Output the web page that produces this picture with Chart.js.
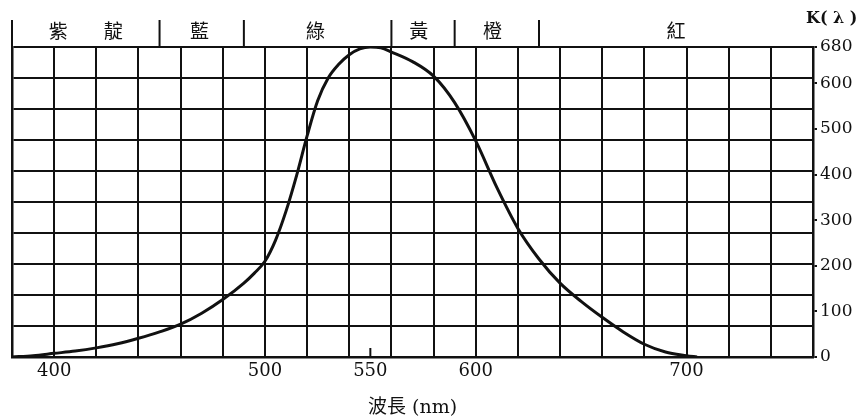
<!DOCTYPE html>
<html lang="zh-Hant">
<head>
    <meta charset="UTF-8">
    <title>K(λ)</title>
    <script src="https://cdn.jsdelivr.net/npm/chart.js"></script>
    <style>
        body { margin: 0; background: #fff; }
    </style>
</head>
<body>
    <canvas id="kChart" width="866" height="419"></canvas>

    <script>
        // curve (nm, K)
        const wavelengths = [380, 390, 400, 410, 420, 430, 440, 450, 460, 470, 480, 490, 495, 500, 505, 510, 515, 520, 525, 530, 535, 540, 545, 550, 555, 560, 570, 580, 590, 600, 610, 620, 630, 640, 650, 660, 670, 680, 690, 700, 705];
        const kValues = [0, 3, 8, 13, 20, 29, 41, 55, 72, 96, 126, 162, 184, 210, 256, 320, 398, 485, 562, 612, 642, 663, 676, 680, 678, 669, 648, 616, 558, 474, 372, 282, 215, 162, 122, 87, 55, 28, 11, 3, 0];

        const xLabels = [400, 500, 550, 600, 700];
        const yLabels = [0, 100, 200, 300, 400, 500, 600, 680];

        // colour band across the top
        const bandEdges = [380, 450, 490, 560, 590, 630];
        const bandNames = ['紫', '靛', '藍', '綠', '黃', '橙', '紅'];
        const bandNamePos = [402, 428, 469, 524, 573, 608, 695];

        const ink = '#111';
        const serif = "'DejaVu Serif', 'Noto Sans CJK TC', serif";

        const xTickValues = [];
        for (let v = 380; v <= 760; v += 20) xTickValues.push(v);
        xTickValues.push(550);
        xTickValues.sort((a, b) => a - b);

        const yGridValues = [];
        for (let i = 0; i <= 10; i++) yGridValues.push(i * 68);

        const bandPlugin = {
            id: 'band',
            afterDraw(chart) {
                const { ctx, chartArea, scales } = chart;
                const x = scales.x;
                const top = chartArea.top - 27;
                ctx.save();
                ctx.strokeStyle = ink;
                ctx.lineWidth = 2;
                bandEdges.forEach(v => {
                    const px = x.getPixelForValue(v);
                    ctx.beginPath();
                    ctx.moveTo(px, top);
                    ctx.lineTo(px, chartArea.top);
                    ctx.stroke();
                });
                // small mark at 550
                const p = x.getPixelForValue(550);
                ctx.beginPath();
                ctx.moveTo(p, chartArea.bottom);
                ctx.lineTo(p, chartArea.bottom - 9);
                ctx.stroke();

                ctx.fillStyle = ink;
                ctx.font = "19px 'Noto Sans CJK TC'";
                ctx.textAlign = 'center';
                ctx.textBaseline = 'middle';
                bandNames.forEach((n, i) => {
                    ctx.fillText(n, x.getPixelForValue(bandNamePos[i]), chartArea.top - 16);
                });

                ctx.font = "bold 16px 'DejaVu Serif'";
                ctx.textAlign = 'left';
                ctx.fillText('K( λ )', chartArea.right - 7, chartArea.top - 28);
                ctx.restore();
            }
        };

        const ctx = document.getElementById('kChart').getContext('2d');
        const chart = new Chart(ctx, {
            type: 'line',
            data: {
                datasets: [{
                    data: wavelengths.map((w, i) => ({ x: w, y: kValues[i] })),
                    borderColor: ink,
                    borderWidth: 3,
                    pointRadius: 0,
                    cubicInterpolationMode: 'monotone',
                    fill: false
                }]
            },
            options: {
                responsive: false,
                animation: false,
                layout: { padding: { left: 12, top: 47, right: 0, bottom: 0 } },
                plugins: {
                    legend: { display: false },
                    tooltip: { enabled: false }
                },
                scales: {
                    x: {
                        type: 'linear',
                        position: 'bottom',
                        min: 380,
                        max: 760,
                        afterBuildTicks: s => { s.ticks = xTickValues.map(v => ({ value: v })); },
                        afterFit: s => { s.height = 62; },
                        grid: {
                            color: c => (c.tick && c.tick.value % 20 === 0) ? ink : 'rgba(0,0,0,0)',
                            lineWidth: 2,
                            drawTicks: false
                        },
                        border: { display: true, color: ink, width: 2.5 },
                        ticks: {
                            autoSkip: false,
                            maxRotation: 0,
                            padding: 4,
                            color: ink,
                            font: { family: serif, size: 18 },
                            callback: v => xLabels.includes(v) ? String(v) : ''
                        },
                        title: {
                            display: true,
                            text: '波長 (nm)',
                            color: ink,
                            font: { family: serif, size: 19 },
                            padding: { top: 0, bottom: 0 }
                        }
                    },
                    y: {
                        type: 'linear',
                        position: 'right',
                        min: 0,
                        max: 680,
                        afterBuildTicks: s => { s.ticks = yLabels.map(v => ({ value: v })); },
                        afterFit: s => { s.width = 53; },
                        grid: {
                            drawOnChartArea: false,
                            drawTicks: true,
                            tickLength: 4,
                            color: ink,
                            lineWidth: 2
                        },
                        border: { display: true, color: ink, width: 2.5 },
                        ticks: {
                            padding: 3,
                            color: ink,
                            font: { family: serif, size: 17 }
                        }
                    },
                    yGrid: {
                        type: 'linear',
                        position: 'left',
                        min: 0,
                        max: 680,
                        afterBuildTicks: s => { s.ticks = yGridValues.map(v => ({ value: v })); },
                        afterFit: s => { s.width = 0; },
                        grid: { color: ink, lineWidth: 2, drawTicks: false },
                        border: { display: true, color: ink, width: 2.5 },
                        ticks: { display: false }
                    }
                }
            },
            plugins: [bandPlugin]
        });
    </script>
</body>
</html>
